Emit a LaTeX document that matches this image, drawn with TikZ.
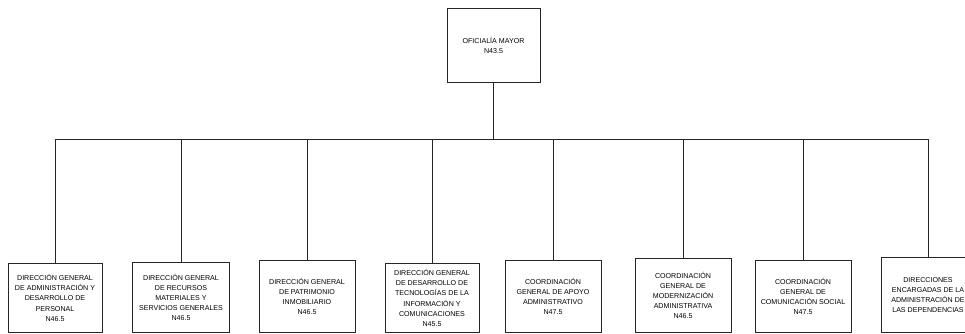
\documentclass[tikz,border=0pt]{standalone}
\usepackage{fontspec}
\setmainfont{Liberation Sans}
\usetikzlibrary{calc}

\tikzset{
	unidad/.style={draw=black!85, line width=0.9pt, align=center, anchor=north,
		font=\fontsize{7.1}{10.2}\selectfont, inner sep=1pt},
	enlace/.style={draw=black!85, line width=0.9pt}
}

\begin{document}
\begin{tikzpicture}[x=1pt,y=-1pt]
			\def\bus{139};
			\def\base{332};

			\useasboundingbox (0,0) rectangle (965,334);

			\node [unidad, minimum width=93, minimum height=74] (oficialia) at (493.5,8) {OFICIALÍA MAYOR\\N43.5};
			\coordinate (bus) at (0,\bus);

			\foreach \x/\t/\w/\txt/\n in {
				55/263/94/{DIRECCIÓN GENERAL\\DE ADMINISTRACIÓN Y\\DESARROLLO DE\\PERSONAL\\N46.5}/1,
				181/262/97/{DIRECCIÓN GENERAL\\DE RECURSOS\\MATERIALES Y\\SERVICIOS GENERALES\\N46.5}/2,
				307/260/96/{DIRECCIÓN GENERAL\\DE PATRIMONIO\\INMOBILIARIO\\N46.5}/3,
				432/263/94/{DIRECCIÓN GENERAL\\DE DESARROLLO DE\\TECNOLOGÍAS DE LA\\INFORMACIÓN Y\\COMUNICACIONES\\N45.5}/4,
				553/260/96/{COORDINACIÓN\\GENERAL DE APOYO\\ADMINISTRATIVO\\N47.5}/5,
				683/258/96/{COORDINACIÓN\\GENERAL DE\\MODERNIZACIÓN\\ADMINISTRATIVA\\N46.5}/6,
				803/260/96/{COORDINACIÓN\\GENERAL DE\\COMUNICACIÓN SOCIAL\\N47.5}/7,
				928/257/93/{DIRECCIONES\\ENCARGADAS DE LA\\ADMINISTRACIÓN DE\\LAS DEPENDENCIAS}/8}
			{
				\pgfmathsetmacro{\h}{\base-\t}
				\node [unidad, minimum width=\w, minimum height=\h] (dir\n) at (\x,\t) {\txt};
				\draw [enlace] (dir\n.north) -- (dir\n.north |- bus);
			}

			\begin{scope}[enlace]
				\draw (oficialia.south) -- (oficialia.south |- bus);
				\draw (dir1.north |- bus) -- (dir8.north |- bus);
			\end{scope}
		\end{tikzpicture}
\end{document}
